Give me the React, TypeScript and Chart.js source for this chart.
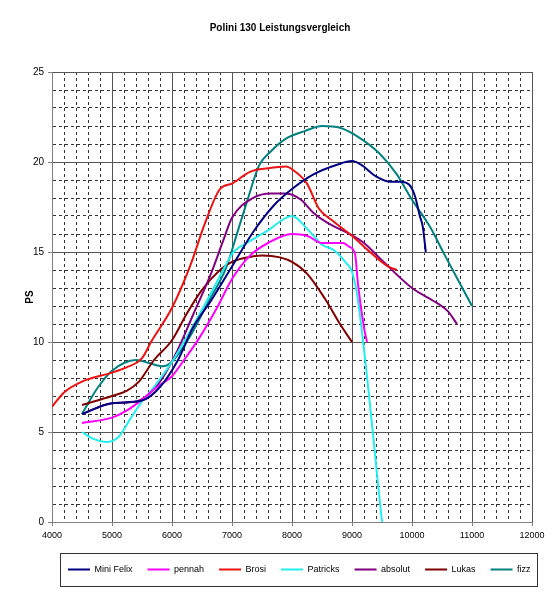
import React, { useEffect, useRef } from 'react';
import { Chart, registerables } from 'chart.js';

Chart.register(...registerables);

const titleText = 'Polini 130 Leistungsvergleich';
const yAxisTitle = 'PS';

const seriesNames = ['Mini Felix', 'pennah', 'Brosi', 'Patricks', 'absolut', 'Lukas', 'fizz'];
const seriesColors = ['#000080', '#FF00FF', '#EE1111', '#22EEEE', '#800080', '#800000', '#008080'];

const miniFelixRpm = [4500, 5000, 5500, 5800, 6100, 6350, 6650, 7000, 7350, 7700, 8000, 8350, 8750, 9000, 9150, 9400, 9650, 9800, 9950, 10050, 10130, 10180, 10230];
const miniFelixPs = [6.0, 6.6, 6.75, 7.5, 9.0, 10.8, 12.3, 14.2, 16.1, 17.6, 18.5, 19.3, 19.85, 20.05, 19.85, 19.2, 18.9, 18.9, 18.75, 18.1, 17.0, 16.4, 15.0];

const pennahRpm = [4500, 5000, 5250, 5500, 5750, 6000, 6200, 6450, 6750, 7000, 7300, 7600, 8000, 8250, 8500, 8850, 8950, 9050, 9100, 9200, 9250];
const pennahPs = [5.5, 5.8, 6.2, 6.8, 7.5, 8.1, 9.0, 10.2, 11.9, 13.5, 14.8, 15.5, 16.0, 15.9, 15.5, 15.5, 15.3, 14.9, 13.2, 10.8, 10.0];

const brosiRpm = [4000, 4200, 4500, 5000, 5250, 5500, 5650, 6000, 6300, 6550, 6800, 7000, 7300, 7600, 7900, 8020, 8250, 8450, 8650, 9000, 9300, 9600, 9750];
const brosiPs = [6.4, 7.2, 7.8, 8.3, 8.6, 9.1, 10.0, 11.9, 14.2, 16.6, 18.5, 18.8, 19.45, 19.65, 19.75, 19.55, 18.8, 17.4, 16.8, 15.9, 15.0, 14.2, 14.0];

const patricksRpm = [4500, 4700, 4900, 5100, 5300, 5500, 5700, 6000, 6300, 6600, 6900, 7000, 7300, 7600, 8000, 8250, 8500, 8700, 8900, 9000, 9100, 9500];
const patricksPs = [5.0, 4.6, 4.45, 4.7, 5.7, 6.7, 7.5, 8.9, 10.6, 12.4, 14.3, 14.9, 15.6, 16.2, 17.0, 16.3, 15.4, 15.1, 14.4, 13.9, 12.3, 0];

const absolutRpm = [4500, 5000, 5400, 5800, 6100, 6350, 6650, 6850, 7000, 7350, 7650, 7900, 8150, 8350, 8600, 8900, 9200, 9450, 10000, 10400, 10600, 10750];
const absolutPs = [6.0, 6.6, 6.7, 7.8, 9.6, 11.5, 13.8, 15.6, 16.9, 18.0, 18.25, 18.25, 17.9, 17.2, 16.6, 16.1, 15.5, 14.7, 13.0, 12.2, 11.7, 11.0];

const lukasRpm = [4500, 5000, 5250, 5450, 5700, 6000, 6250, 6500, 6800, 7000, 7250, 7500, 7800, 8000, 8250, 8550, 8800, 9000];
const lukasPs = [6.5, 7.0, 7.3, 7.8, 9.0, 10.1, 11.6, 12.9, 14.0, 14.45, 14.7, 14.8, 14.7, 14.45, 13.8, 12.4, 11.0, 10.0];

const fizzRpm = [4500, 4750, 5000, 5400, 5600, 5850, 6000, 6300, 6600, 6900, 7100, 7250, 7450, 7650, 7900, 8200, 8500, 8800, 9100, 9450, 9750, 10000, 10300, 10550, 11000];
const fizzPs = [6.0, 7.4, 8.4, 9.0, 8.85, 8.65, 8.9, 10.3, 12.2, 14.1, 16.2, 17.8, 19.8, 20.6, 21.3, 21.7, 22.0, 21.9, 21.4, 20.5, 19.3, 17.9, 16.4, 14.8, 12.0];

const seriesRpm = [miniFelixRpm, pennahRpm, brosiRpm, patricksRpm, absolutRpm, lukasRpm, fizzRpm];
const seriesPs = [miniFelixPs, pennahPs, brosiPs, patricksPs, absolutPs, lukasPs, fizzPs];

const xMin = 4000;
const xMax = 12000;
const xStep = 200;
const xMajor = 1000;
const yMin = 0;
const yMax = 25;
const yStep = 1;
const yMajor = 5;

const FONT = 'Arial, "Liberation Sans", sans-serif';
const LEGEND_START = 68; // where the first legend sample starts in the original

// moves the legend row so it starts where the original's does, and centres the title on the page
const boxShift = {
  id: 'boxShift',
  afterLayout(chart: any) {
    const lg = chart.legend;
    if (lg && lg.lineWidths) {
      const pad = lg.options.labels.padding;
      const start = (lg.left + pad + lg.right - lg.lineWidths[0]) / 2;
      const shift = LEGEND_START - start;
      lg.left += shift;
      lg.right += shift;
    }
    const tb = chart.titleBlock;
    if (tb) {
      tb.left = 0;
      tb.right = chart.width;
      tb.width = chart.width;
    }
  },
};

const legendFrame = {
  id: 'legendFrame',
  afterDraw(chart: any) {
    const lg = chart.legend;
    if (!lg || !lg.legendHitBoxes || !lg.legendHitBoxes.length) return;
    const boxes = lg.legendHitBoxes;
    const left = Math.min(...boxes.map((b: any) => b.left)) - 8;
    const right = Math.max(...boxes.map((b: any) => b.left + b.width)) + 6;
    const cy = boxes[0].top + boxes[0].height / 2;
    const ctx = chart.ctx;
    ctx.save();
    ctx.strokeStyle = '#333';
    ctx.lineWidth = 1;
    ctx.strokeRect(Math.round(left) + 0.5, Math.round(cy - 17) + 0.5, Math.round(right - left), 33);
    ctx.restore();
  },
};

export default function App() {
  const canvasRef = useRef<HTMLCanvasElement | null>(null);

  useEffect(() => {
    const canvas = canvasRef.current;
    if (!canvas) return;
    const datasets = seriesNames.map((name, i) => ({
      label: name,
      data: seriesRpm[i].map((x, j) => ({ x, y: seriesPs[i][j] })),
      borderColor: seriesColors[i],
      backgroundColor: seriesColors[i],
      borderWidth: 2,
      pointRadius: 0,
      pointHoverRadius: 0,
      fill: false,
      cubicInterpolationMode: 'monotone' as const,
    }));

    const chart = new Chart(canvas, {
      type: 'line',
      data: { datasets },
      plugins: [boxShift, legendFrame],
      options: {
        responsive: false,
        animation: false,
        events: [],
        layout: { padding: { left: 0, right: 28, top: 0, bottom: 16 } },
        plugins: {
          title: {
            display: true,
            text: titleText,
            color: '#000',
            font: { family: FONT, size: 10, weight: 'bold' },
            padding: { top: 22, bottom: 38 },
          },
          legend: {
            position: 'bottom',
            fullSize: true,
            labels: {
              color: '#000',
              font: { family: FONT, size: 9 },
              usePointStyle: true,
              pointStyle: 'line',
              pointStyleWidth: 22,
              padding: 15,
            },
          },
          tooltip: { enabled: false },
        },
        scales: {
          x: {
            type: 'linear',
            min: xMin,
            max: xMax,
            afterFit(scale: any) {
              scale.height = 28;
            },
            ticks: {
              stepSize: xStep,
              autoSkip: false,
              maxRotation: 0,
              minRotation: 0,
              padding: 4,
              color: '#000',
              font: { family: FONT, size: 9 },
              callback: (v: any) => (Number(v) % xMajor === 0 ? String(v) : ''),
            },
            grid: {
              color: (c: any) => (c.tick && c.tick.value % xMajor === 0 ? '#555' : '#333'),
              lineWidth: 1,
              tickLength: 4,
              tickColor: (c: any) => (c.tick && c.tick.value % xMajor === 0 ? '#808080' : 'rgba(0,0,0,0)'),
            },
            border: {
              display: true,
              color: '#808080',
              width: 1,
              dash: (c: any) => (c.tick && c.tick.value % xMajor !== 0 ? [3, 3] : []),
            },
          },
          y: {
            type: 'linear',
            min: yMin,
            max: yMax,
            afterFit(scale: any) {
              scale.width = 52;
            },
            title: {
              display: true,
              text: yAxisTitle,
              color: '#000',
              font: { family: FONT, size: 10, weight: 'bold' },
              padding: { top: 24, bottom: 0 },
            },
            ticks: {
              stepSize: yStep,
              autoSkip: false,
              padding: 4,
              color: '#000',
              font: { family: FONT, size: 10 },
              callback: (v: any) => (Number(v) % yMajor === 0 ? String(v) : ''),
            },
            grid: {
              color: (c: any) => (c.tick && c.tick.value % yMajor === 0 ? '#555' : '#333'),
              lineWidth: 1,
              tickLength: 4,
              tickColor: (c: any) => (c.tick && c.tick.value % yMajor === 0 ? '#808080' : 'rgba(0,0,0,0)'),
            },
            border: {
              display: true,
              color: '#808080',
              width: 1,
              dash: (c: any) => (c.tick && c.tick.value % yMajor !== 0 ? [3, 3] : []),
            },
          },
        },
      },
    } as any);

    return () => {
      chart.destroy();
    };
  }, []);

  return (
    <div style={{ position: 'fixed', left: 0, top: 0, width: 560, height: 600, background: '#fff' }}>
      <canvas ref={canvasRef} width={560} height={600} style={{ display: 'block' }} />
    </div>
  );
}
